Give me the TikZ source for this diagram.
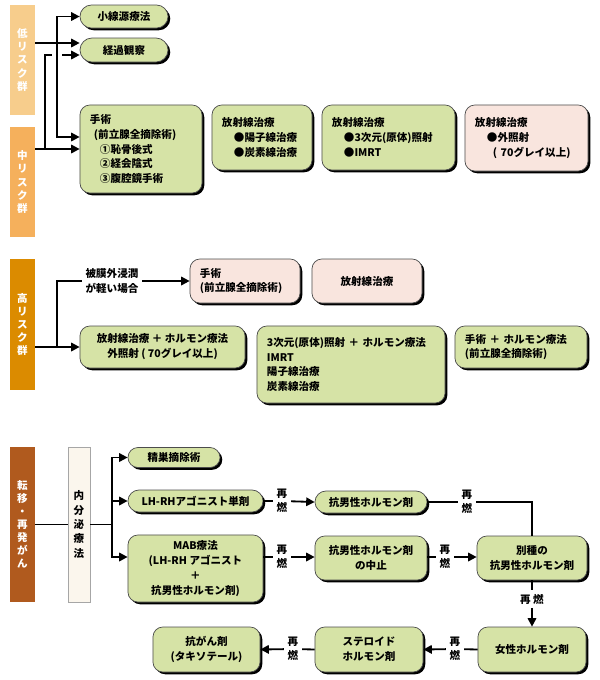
\documentclass[tikz,border=0pt]{standalone}
\usepackage{fontspec}
\setmainfont{Noto Sans CJK JP}
\usetikzlibrary{arrows.meta,shapes.misc,shadows}

\definecolor{lowrisk}{RGB}{247,205,140}
\definecolor{midrisk}{RGB}{245,176,92}
\definecolor{highrisk}{RGB}{219,139,0}
\definecolor{metarisk}{RGB}{176,90,30}
\definecolor{boxgreen}{RGB}{214,227,166}
\definecolor{boxpink}{RGB}{249,229,222}
\definecolor{endobox}{RGB}{251,246,237}

\tikzset{
  box/.style={draw=black!70, line width=0.5pt, fill=boxgreen, rounded corners=7pt,
    drop shadow={shadow xshift=1.6pt, shadow yshift=-1.6pt, opacity=1, fill=black},
    font=\fontsize{7.5}{10.6}\selectfont\bfseries, align=center, inner sep=0pt},
  pbox/.style={box, fill=boxpink},
  lbox/.style={box, align=left, inner xsep=0.25cm},
  pill/.style={box, rounded rectangle, sharp corners},
  riskbar/.style={text=white, minimum width=0.625cm, inner sep=0pt, align=center,
    font=\fontsize{7.5}{9.3}\selectfont\bfseries},
  endobar/.style={draw=black!35, fill=endobox, minimum width=0.55cm, inner sep=0pt,
    align=center, font=\fontsize{7.5}{10.3}\selectfont\bfseries},
  note/.style={inner sep=2.5pt, align=center, font=\fontsize{7.5}{10.3}\selectfont\bfseries},
  conn/.style={line width=1.3pt},
  arr/.style={conn, -{Triangle[length=6pt, width=6pt]}},
}

\begin{document}
\begin{tikzpicture}[x=0.025cm,y=-0.025cm]
\useasboundingbox (0,0) rectangle (600,680);

\node[riskbar, fill=lowrisk, minimum height=2.75cm] (lowbar) at (22.5,60) {低\\リ\\ス\\ク\\群};
\node[riskbar, fill=midrisk, minimum height=2.75cm] (midbar) at (22.5,182) {中\\リ\\ス\\ク\\群};
\node[pill, minimum width=2.2cm, minimum height=0.575cm] (shosen) at (124,16.5) {小線源療法};
\node[pill, minimum width=2.2cm, minimum height=0.6cm] (keika) at (124,50) {経過観察};
\node[lbox, text width=2.55cm, minimum height=2.2cm] (shujutsu) at (141,149) {手術\\\hspace*{0.1cm}(前立腺全摘除術)\\\hspace*{0.25cm}①恥骨後式\\\hspace*{0.25cm}②経会陰式\\\hspace*{0.25cm}③腹腔鏡手術};
\node[lbox, text width=2.0cm, minimum height=1.625cm] (proton) at (262,137.5) {放射線治療\\\hspace*{0.3cm}●陽子線治療\\\hspace*{0.3cm}●炭素線治療};
\node[lbox, text width=2.825cm, minimum height=1.625cm] (conform) at (388.5,137.5) {放射線治療\\\hspace*{0.3cm}●3次元(原体)照射\\\hspace*{0.3cm}●IMRT};
\node[lbox, fill=boxpink, text width=2.575cm, minimum height=1.65cm] (extern) at (526.5,138) {放射線治療\\\hspace*{0.3cm}●外照射\\\hspace*{0.45cm}( 70グレイ以上)};

\coordinate (lj) at (57,43);
\coordinate (sj) at (57,137);
\coordinate (mj) at (45,149);
\coordinate (mg1) at (52,55);
\coordinate (mg2) at (62,55);
\draw[arr] (lowbar.east |- lj) -- (keika.west |- lj);
\draw[arr] (lj) |- (shosen.west);
\draw[arr] (lj) -- (sj) -- (shujutsu.west |- sj);
\draw[arr] (midbar.east |- mj) -- (shujutsu.west |- mj);
\draw[conn] (mj) |- (mg1);
\draw[arr] (mg2) -- (keika.west |- mg2);

\node[riskbar, fill=highrisk, minimum height=3.275cm] (highbar) at (22.5,324.5) {高\\リ\\ス\\ク\\群};
\node[note] (hinv) at (112,281) {被膜外浸潤\\が軽い場合};
\node[lbox, fill=boxpink, text width=2.25cm, minimum height=1.1cm] (hope) at (245,281) {手術\\(前立腺全摘除術)};
\node[pbox, minimum width=2.75cm, minimum height=1.1cm] (hrad) at (367,281) {放射線治療};
\node[box, minimum width=4.125cm, minimum height=1.05cm] (hext) at (162.5,347) {放射線治療 ＋ ホルモン療法\\外照射 ( 70グレイ以上)};
\node[lbox, text width=4.2cm, minimum height=1.925cm] (hconf) at (351,364.5) {3次元(原体)照射 ＋ ホルモン療法\\IMRT\\陽子線治療\\炭素線治療};
\node[lbox, text width=2.8cm, minimum height=1.05cm] (hsurg) at (521,347) {手術 ＋ ホルモン療法\\(前立腺全摘除術)};

\coordinate (hj) at (57,347);
\draw[arr] (highbar.east |- hj) -- (hext.west);
\draw[conn] (hj) |- (hinv.west);
\draw[arr] (hinv.east) -- (hope.west);

\node[riskbar, fill=metarisk, minimum height=3.875cm] (metabar) at (22.5,524.5) {転\\移\\・\\再\\発\\が\\ん};
\node[endobar, minimum height=3.875cm] (endo) at (79,524.5) {内\\分\\泌\\療\\法};
\node[pill, minimum width=2.3cm, minimum height=0.5cm] (seiso) at (174,457.5) {精巣摘除術};
\node[pill, minimum width=3.375cm, minimum height=0.55cm] (lhrh) at (195.5,501) {LH-RHアゴニスト単剤};
\node[box, minimum width=3.375cm, minimum height=1.675cm] (mab) at (195.5,568.5) {MAB療法\\(LH-RH アゴニスト\\＋\\抗男性ホルモン剤)};
\node[pill, minimum width=2.8cm, minimum height=0.55cm] (anti) at (371,502) {抗男性ホルモン剤};
\node[box, minimum width=2.8cm, minimum height=1.1cm] (stop) at (371,558) {抗男性ホルモン剤\\の中止};
\node[box, minimum width=2.75cm, minimum height=1.1cm] (other) at (532,558) {別種の\\抗男性ホルモン剤};
\node[box, minimum width=2.7cm, minimum height=1.125cm] (female) at (532,649.5) {女性ホルモン剤};
\node[box, minimum width=2.7cm, minimum height=1.125cm] (steroid) at (369,649.5) {ステロイド\\ホルモン剤};
\node[box, minimum width=2.675cm, minimum height=1.125cm] (chemo) at (206.5,649.5) {抗がん剤\\(タキソテール)};
\node[note] (re1) at (282,501) {再\\燃};
\node[note] (re2) at (282,557) {再\\燃};
\node[note] (re3) at (467,502) {再\\燃};
\node[note] (re4) at (445,557) {再\\燃};
\node[note] (re5) at (532,599) {再 燃};
\node[note] (re6) at (455,649) {再\\燃};
\node[note] (re7) at (293,649) {再\\燃};

\coordinate (ej) at (112,524.5);
\coordinate (ek) at (112,557);
\draw[conn] (metabar.east) -- (endo.west);
\draw[conn] (endo.east) -- (ej);
\draw[arr] (ej) |- (seiso.west);
\draw[arr] (ej) |- (lhrh.west);
\draw[arr] (ej) -- (ek) -- (mab.west |- ek);
\draw[conn] (lhrh.east) -- (re1);
\draw[arr] (re1) -- (anti.west);
\draw[conn] (mab.east |- re2) -- (re2);
\draw[arr] (re2) -- (stop.west |- re2);
\draw[conn] (anti.east) -- (re3);
\draw[conn] (re3) -| (other.north);
\draw[conn] (stop.east |- re4) -- (re4);
\draw[arr] (re4) -- (other.west |- re4);
\draw[conn] (other.south) -- (re5);
\draw[arr] (re5) -- (female.north);
\draw[conn] (female.west) -- (re6);
\draw[arr] (re6) -- (steroid.east);
\draw[conn] (steroid.west) -- (re7);
\draw[arr] (re7) -- (chemo.east);
\end{tikzpicture}
\end{document}
